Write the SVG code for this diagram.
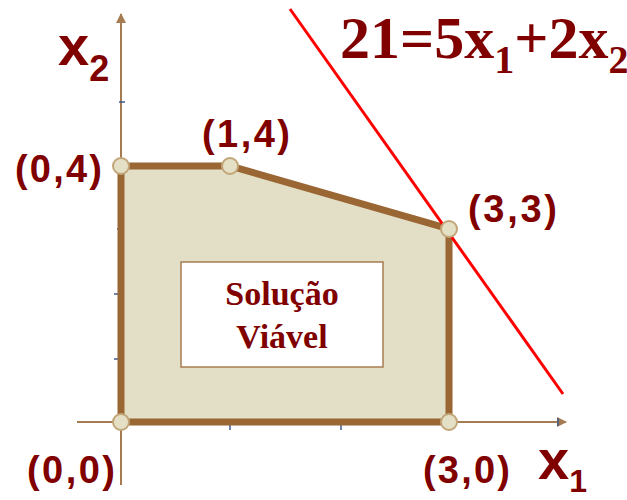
<svg xmlns="http://www.w3.org/2000/svg" width="627" height="500" viewBox="0 0 627 500">
<defs>
<style>
.axis{stroke:#a57c52;stroke-width:2;fill:none}
.tick{stroke:#3a5a8c;stroke-width:1.5}
.region{fill:#e2dfc6;stroke:#9a6633;stroke-width:7;stroke-linejoin:miter}
.pt{fill:#e4e0c6;stroke:#c2a578;stroke-width:2}
.lbl{font-family:"Liberation Sans",Arial,sans-serif;font-weight:bold;fill:#800000}
.ser{font-family:"Liberation Serif","Times New Roman",serif;font-weight:bold;fill:#800000}
</style>
<marker id="ah" viewBox="0 0 10 10" refX="9" refY="5" markerWidth="5" markerHeight="5" orient="auto" markerUnits="strokeWidth">
<path d="M0,0 L10,5 L0,10 z" fill="#a57c52"/>
</marker>
</defs>
<rect width="627" height="500" fill="#ffffff"/>
<g id="axes">
<line class="axis" x1="121" y1="485" x2="121" y2="14" marker-end="url(#ah)"/>
<line class="axis" x1="77" y1="422" x2="566" y2="422" marker-end="url(#ah)"/>
<line class="tick" x1="119" y1="102" x2="125" y2="102"/>
<line class="tick" x1="117" y1="229" x2="122" y2="229"/>
<line class="tick" x1="114" y1="294" x2="119" y2="294"/>
<line class="tick" x1="114" y1="359" x2="119" y2="359"/>
<line class="tick" x1="230" y1="425" x2="230" y2="430"/>
<line class="tick" x1="341" y1="425" x2="341" y2="430"/>
<line class="tick" x1="558" y1="418" x2="558" y2="426"/>
</g>
<g id="region">
<polygon class="region" points="121,166 230,166 449,229 449,422 121,422"/>
</g>
<g id="constraint-line">
<line x1="290" y1="9" x2="563" y2="394" stroke="#ff0000" stroke-width="3"/>
</g>
<g id="feasible-box">
<rect x="181" y="262" width="202" height="105" fill="#ffffff" stroke="#a87c50" stroke-width="1.5"/>
<text class="ser" x="282" y="305" font-size="34" text-anchor="middle">Solução</text>
<text class="ser" x="282" y="348" font-size="34" text-anchor="middle">Viável</text>
</g>
<g id="points">
<circle class="pt" cx="121" cy="166" r="8"/>
<circle class="pt" cx="230" cy="166" r="8"/>
<circle class="pt" cx="449" cy="229" r="8"/>
<circle class="pt" cx="449" cy="422" r="8"/>
<circle class="pt" cx="121" cy="422" r="8"/>
</g>
<g id="labels">
<text class="lbl" x="58" y="65" font-size="56">x<tspan font-size="36" dy="16">2</tspan></text>
<text class="lbl" x="538" y="479" font-size="56">x<tspan font-size="32" dy="13">1</tspan></text>
<text class="lbl" x="15" y="182" font-size="38" textLength="87" lengthAdjust="spacing">(0,4)</text>
<text class="lbl" x="202" y="147" font-size="38" textLength="88" lengthAdjust="spacing">(1,4)</text>
<text class="lbl" x="468" y="222" font-size="38" textLength="89" lengthAdjust="spacing">(3,3)</text>
<text class="lbl" x="27" y="483" font-size="38" textLength="88" lengthAdjust="spacing">(0,0)</text>
<text class="lbl" x="423" y="483" font-size="38" textLength="87" lengthAdjust="spacing">(3,0)</text>
<text class="ser" x="340" y="58" font-size="60">21=5x<tspan font-size="40" dy="15">1</tspan><tspan dy="-15">+2x</tspan><tspan font-size="40" dy="15">2</tspan></text>
</g>
</svg>
